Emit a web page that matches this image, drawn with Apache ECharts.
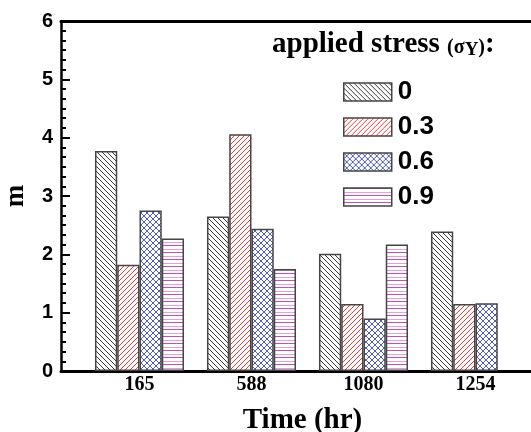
<!DOCTYPE html>
<html><head><meta charset="utf-8">
<script src="https://cdn.jsdelivr.net/npm/echarts@6/dist/echarts.min.js"></script>
<style>html,body{margin:0;padding:0;background:#fff}#c{width:531px;height:432px}</style>
</head><body><div id="c"></div>
<script>
const categories = ['165', '588', '1080', '1254'];
const seriesNames = ['0', '0.3', '0.6', '0.9'];
const s0 = [3.77, 2.65, 2.01, 2.39];
const s1 = [1.82, 4.06, 1.15, 1.15];
const s2 = [2.75, 2.44, 0.90, 1.16];
const s3 = [2.27, 1.75, 2.17, null];
const yTicks = [0, 1, 2, 3, 4, 5, 6];

function makePattern(w, h, draw) {
  const c = document.createElement('canvas');
  c.width = w; c.height = h;
  const g = c.getContext('2d');
  g.fillStyle = '#fff'; g.fillRect(0, 0, w, h);
  draw(g);
  return { image: c, repeat: 'repeat' };
}
function px(g, col, pts) { g.fillStyle = col; pts.forEach(p => g.fillRect(p[0], p[1], 1, 1)); }
function diag(n, down) { const a = []; for (let i = 0; i < n; i++) a.push(down ? [i, i] : [n - 1 - i, i]); return a; }

const pat0 = makePattern(5, 5, g => px(g, '#3a3a3a', diag(5, true)));
const pat1 = makePattern(5, 5, g => px(g, '#f03a3a', diag(5, false)));
const pat2 = makePattern(6, 6, g => px(g, '#5060b8', diag(6, true).concat(diag(6, false))));
const pat3 = makePattern(1, 7, g => { px(g, '#c050b8', [[0, 0]]); px(g, '#e2a0dc', [[0, 4]]); });
const pats = [pat0, pat1, pat2, pat3];
const datas = [s0, s1, s2, s3];

const serif = '"Liberation Serif", "Times New Roman", serif';
const sans = '"Liberation Sans", Arial, sans-serif';

const chart = echarts.init(document.getElementById('c'), null, { renderer: 'canvas' });
chart.setOption({
  animation: false,
  backgroundColor: '#fff',
  title: {
    left: 272, top: 29, padding: 0,
    text: '{a|applied stress }{b|(σ}{c|Y}{b|)}{a|:}',
    textStyle: {
      rich: {
        a: { fontFamily: serif, fontWeight: 'bold', fontSize: 29, color: '#000' },
        b: { fontFamily: serif, fontWeight: 'bold', fontSize: 20, color: '#000', padding: [6, 0, 0, 0] },
        c: { fontFamily: serif, fontWeight: 'bold', fontSize: 19, color: '#000', padding: [12, 0, 0, 0] }
      }
    }
  },
  legend: {
    orient: 'vertical', left: 343, top: 79, padding: 0,
    itemWidth: 48, itemHeight: 18, itemGap: 9,
    icon: 'rect',
    itemStyle: { borderColor: '#444', borderWidth: 1.5 },
    textStyle: { fontFamily: sans, fontWeight: 'bold', fontSize: 26, color: '#000', padding: [0, 0, 0, 1] },
    data: seriesNames
  },
  grid: [
    { left: 83.5, top: 21, width: 448, bottom: 61, outerBoundsMode: 'none', containLabel: false },
    { left: 61, top: 21, right: -40, bottom: 61, outerBoundsMode: 'none', containLabel: false }
  ],
  xAxis: [
    {
      type: 'category', gridIndex: 0, data: categories,
      axisLine: { show: false }, axisTick: { show: false },
      axisLabel: { margin: 4, fontFamily: serif, fontWeight: 'bold', fontSize: 20, color: '#000' },
      name: 'Time (hr)', nameLocation: 'middle', nameGap: 35,
      nameTextStyle: { fontFamily: serif, fontWeight: 'bold', fontSize: 29, color: '#000', padding: [0, 10, 0, 0] }
    },
    {
      type: 'value', gridIndex: 1, min: 0, max: 1, position: 'bottom',
      axisLine: { show: true, lineStyle: { color: '#000', width: 3 } },
      axisTick: { show: false }, axisLabel: { show: false }, splitLine: { show: false }
    },
    {
      type: 'value', gridIndex: 1, min: 0, max: 1, position: 'top',
      axisLine: { show: true, lineStyle: { color: '#000', width: 3 } },
      axisTick: { show: false }, axisLabel: { show: false }, splitLine: { show: false }
    }
  ],
  yAxis: [
    {
      type: 'value', gridIndex: 0, min: 0, max: 6, interval: 1, show: false
    },
    {
      type: 'value', gridIndex: 1, min: yTicks[0], max: yTicks[yTicks.length - 1], interval: 1,
      axisLine: { show: true, lineStyle: { color: '#000', width: 2.5 } },
      axisTick: { show: true, inside: true, length: 9, lineStyle: { color: '#000', width: 2 } },
      minorTick: { show: true, splitNumber: 6, length: 5, lineStyle: { color: '#000', width: 2 } },
      splitLine: { show: false },
      axisLabel: { margin: 8, fontFamily: sans, fontWeight: 'bold', fontSize: 20, color: '#000' },
      name: 'm', nameLocation: 'middle', nameGap: 31,
      nameTextStyle: { fontFamily: serif, fontWeight: 'bold', fontSize: 27, color: '#000' }
    }
  ],
  series: seriesNames.map((n, i) => ({
    name: n, type: 'bar', xAxisIndex: 0, yAxisIndex: 0,
    data: datas[i],
    barGap: '0%', barCategoryGap: '20.5%',
    itemStyle: { color: pats[i], borderColor: '#444', borderWidth: 1.5 },
    emphasis: { disabled: true }
  }))
});
</script></body></html>
